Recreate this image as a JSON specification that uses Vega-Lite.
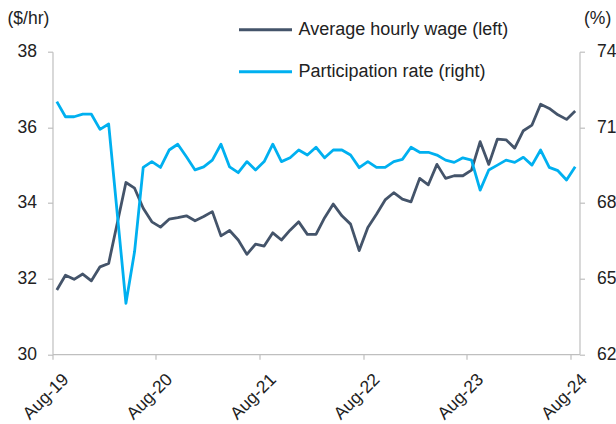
{
  "$schema": "https://vega.github.io/schema/vega-lite/v6.json",
  "autosize": {"type": "none"},
  "padding": {"left": 52.5, "top": 51.7, "right": 36.5, "bottom": 69.8},
  "width": 527,
  "height": 302.5,
  "background": "white",
  "config": {
    "view": {"stroke": null},
    "font": "Liberation Sans",
    "axis": {
      "grid": false,
      "domainColor": "#bfbfbf",
      "tickColor": "#bfbfbf",
      "domainWidth": 1.2,
      "tickWidth": 1.2,
      "tickSize": 5,
      "labelFont": "Liberation Sans",
      "labelFontSize": 17.5,
      "labelColor": "#222222",
      "titleFont": "Liberation Sans",
      "titleFontSize": 17.5,
      "titleFontWeight": "normal",
      "titleColor": "#222222"
    },
    "legend": {
      "labelFont": "Liberation Sans",
      "labelFontSize": 18,
      "labelColor": "#222222",
      "labelLimit": 0
    }
  },
  "data": {
    "values": [
      {"m": "Aug-19", "w": 31.70, "p": 72.02},
      {"m": "Sep-19", "w": 32.09, "p": 71.42},
      {"m": "Oct-19", "w": 31.98, "p": 71.42},
      {"m": "Nov-19", "w": 32.12, "p": 71.52},
      {"m": "Dec-19", "w": 31.94, "p": 71.52},
      {"m": "Jan-20", "w": 32.31, "p": 70.92},
      {"m": "Feb-20", "w": 32.40, "p": 71.13},
      {"m": "Mar-20", "w": 33.47, "p": 67.57},
      {"m": "Apr-20", "w": 34.54, "p": 64.02},
      {"m": "May-20", "w": 34.39, "p": 66.07},
      {"m": "Jun-20", "w": 33.86, "p": 69.41},
      {"m": "Jul-20", "w": 33.50, "p": 69.64},
      {"m": "Aug-20", "w": 33.36, "p": 69.41},
      {"m": "Sep-20", "w": 33.57, "p": 70.10},
      {"m": "Oct-20", "w": 33.61, "p": 70.33},
      {"m": "Nov-20", "w": 33.66, "p": 69.83},
      {"m": "Dec-20", "w": 33.53, "p": 69.31},
      {"m": "Jan-21", "w": 33.64, "p": 69.43},
      {"m": "Feb-21", "w": 33.77, "p": 69.70},
      {"m": "Mar-21", "w": 33.13, "p": 70.33},
      {"m": "Apr-21", "w": 33.27, "p": 69.43},
      {"m": "May-21", "w": 33.02, "p": 69.20},
      {"m": "Jun-21", "w": 32.64, "p": 69.64},
      {"m": "Jul-21", "w": 32.91, "p": 69.31},
      {"m": "Aug-21", "w": 32.86, "p": 69.64},
      {"m": "Sep-21", "w": 33.21, "p": 70.33},
      {"m": "Oct-21", "w": 33.02, "p": 69.64},
      {"m": "Nov-21", "w": 33.28, "p": 69.79},
      {"m": "Dec-21", "w": 33.50, "p": 70.10},
      {"m": "Jan-22", "w": 33.17, "p": 69.90},
      {"m": "Feb-22", "w": 33.17, "p": 70.21},
      {"m": "Mar-22", "w": 33.61, "p": 69.79},
      {"m": "Apr-22", "w": 33.97, "p": 70.10},
      {"m": "May-22", "w": 33.66, "p": 70.10},
      {"m": "Jun-22", "w": 33.44, "p": 69.90},
      {"m": "Jul-22", "w": 32.74, "p": 69.40},
      {"m": "Aug-22", "w": 33.35, "p": 69.64},
      {"m": "Sep-22", "w": 33.70, "p": 69.41},
      {"m": "Oct-22", "w": 34.08, "p": 69.41},
      {"m": "Nov-22", "w": 34.27, "p": 69.64},
      {"m": "Dec-22", "w": 34.10, "p": 69.73},
      {"m": "Jan-23", "w": 34.03, "p": 70.21},
      {"m": "Feb-23", "w": 34.65, "p": 70.01},
      {"m": "Mar-23", "w": 34.48, "p": 70.01},
      {"m": "Apr-23", "w": 35.02, "p": 69.90},
      {"m": "May-23", "w": 34.65, "p": 69.70},
      {"m": "Jun-23", "w": 34.72, "p": 69.61},
      {"m": "Jul-23", "w": 34.72, "p": 69.79},
      {"m": "Aug-23", "w": 34.87, "p": 69.70},
      {"m": "Sep-23", "w": 35.62, "p": 68.51},
      {"m": "Oct-23", "w": 35.02, "p": 69.31},
      {"m": "Nov-23", "w": 35.69, "p": 69.50},
      {"m": "Dec-23", "w": 35.67, "p": 69.70},
      {"m": "Jan-24", "w": 35.45, "p": 69.61},
      {"m": "Feb-24", "w": 35.91, "p": 69.81},
      {"m": "Mar-24", "w": 36.06, "p": 69.50},
      {"m": "Apr-24", "w": 36.61, "p": 70.10},
      {"m": "May-24", "w": 36.50, "p": 69.41},
      {"m": "Jun-24", "w": 36.33, "p": 69.28},
      {"m": "Jul-24", "w": 36.21, "p": 68.91},
      {"m": "Aug-24", "w": 36.43, "p": 69.44}
    ]
  },
  "encoding": {
    "x": {
      "field": "m",
      "type": "ordinal",
      "sort": null,
      "scale": {"type": "band", "paddingInner": 0, "paddingOuter": 0},
      "axis": {
        "title": null,
        "values": ["Aug-19", "Aug-20", "Aug-21", "Aug-22", "Aug-23", "Aug-24"],
        "bandPosition": 0,
        "labelAngle": -45,
        "labelAlign": "right",
        "labelBaseline": "top",
        "labelPadding": 11,
        "labelOffset": 3,
        "domainColor": "#bfbfbf"
      }
    }
  },
  "layer": [
    {
      "mark": {"type": "line", "strokeWidth": 2.8, "strokeJoin": "round"},
      "encoding": {
        "y": {
          "field": "w",
          "type": "quantitative",
          "scale": {"domain": [30, 38], "nice": false, "zero": false},
          "axis": {
            "orient": "left",
            "values": [30, 32, 34, 36, 38],
            "labelPadding": 11,
            "title": "($/hr)",
            "titleAngle": 0,
            "titleAlign": "left",
            "titleBaseline": "middle",
            "titleX": -45.5,
            "titleY": -33.5
          }
        },
        "color": {
          "datum": "Average hourly wage (left)",
          "scale": {
            "domain": ["Average hourly wage (left)", "Participation rate (right)"],
            "range": ["#44546a", "#00b0f0"]
          },
          "legend": {
            "title": null,
            "orient": "none",
            "legendX": 185,
            "legendY": -50,
            "symbolType": "stroke",
            "symbolSize": 2809,
            "symbolStrokeWidth": 3,
            "labelOffset": 5,
            "labelLimit": 0,
            "rowPadding": 5
          }
        }
      }
    },
    {
      "mark": {"type": "line", "strokeWidth": 2.8, "strokeJoin": "round"},
      "encoding": {
        "y": {
          "field": "p",
          "type": "quantitative",
          "scale": {"domain": [62, 74], "nice": false, "zero": false},
          "axis": {
            "orient": "right",
            "values": [62, 65, 68, 71, 74],
            "labelPadding": 12,
            "title": "(%)",
            "titleAngle": 0,
            "titleAlign": "left",
            "titleBaseline": "middle",
            "titleX": 4,
            "titleY": -33.5
          }
        },
        "color": {"datum": "Participation rate (right)"}
      }
    }
  ],
  "resolve": {"scale": {"y": "independent"}}
}
